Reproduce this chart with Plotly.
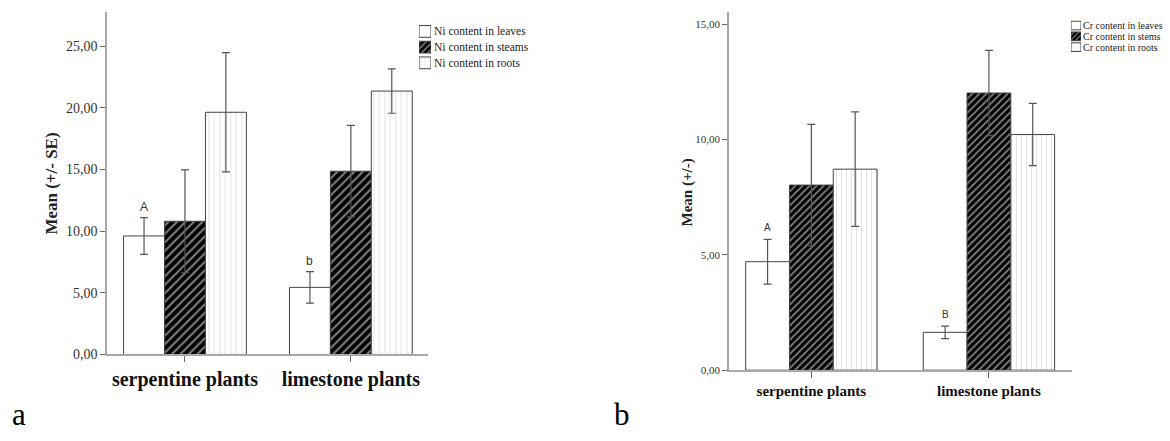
import plotly.graph_objects as go

# ---------------- data ----------------
categories = ["serpentine plants", "limestone plants"]

ni_names = ["Ni content in leaves", "Ni content in steams", "Ni content in roots"]
ni_leaves = [9.61, 5.44]
ni_leaves_se = [1.49, 1.27]
ni_stems = [10.80, 14.86]
ni_stems_se = [4.17, 3.71]
ni_roots = [19.64, 21.36]
ni_roots_se = [4.84, 1.80]
ni_letters = ["A", "b"]

cr_names = ["Cr content in leaves", "Cr content in stems", "Cr content in roots"]
cr_leaves = [4.70, 1.64]
cr_leaves_se = [0.97, 0.27]
cr_stems = [8.02, 12.01]
cr_stems_se = [2.63, 1.85]
cr_roots = [8.71, 10.21]
cr_roots_se = [2.48, 1.35]
cr_letters = ["A", "B"]

ni_yticks = [0, 5, 10, 15, 20, 25]
cr_yticks = [0, 5, 10, 15]

# ---------------- style ----------------
W, H = 1170, 441
SERIF = "Liberation Serif"
AXCOL = "#a8a8a8"
ERRCOL = "#555555"
OUTLINE = "#444444"
BARGAP = 0.26


def pat(k, size):
    if k == 0:
        return dict(shape="")
    if k == 1:
        return dict(shape="/", fgcolor="white", bgcolor="black", size=size, solidity=0.35)
    return dict(shape="|", fgcolor="#c4c4c4", bgcolor="white", size=size, solidity=0.2)


fill = ["white", "black", "white"]


def px_x(p):
    return p / W


def px_y(p):
    return 1 - p / H


fig = go.Figure()

panels = [
    dict(names=ni_names, vals=[ni_leaves, ni_stems, ni_roots],
         ses=[ni_leaves_se, ni_stems_se, ni_roots_se], xa="x", ya="y",
         hatch=[0, 6, 5.5], lxa="x3", lya="y3", lhatch=[0, 4.5, 4], lw=0.75,
         ltext_x=434, lfont=11.5),
    dict(names=cr_names, vals=[cr_leaves, cr_stems, cr_roots],
         ses=[cr_leaves_se, cr_stems_se, cr_roots_se], xa="x2", ya="y2",
         hatch=[0, 5, 5], lxa="x4", lya="y4", lhatch=[0, 3.5, 3.5], lw=0.8,
         ltext_x=1083, lfont=10),
]

annotations = []
for p in panels:
    for k in range(3):
        fig.add_trace(go.Bar(
            x=categories, y=p["vals"][k], name=p["names"][k],
            xaxis=p["xa"], yaxis=p["ya"], offsetgroup=str(k), showlegend=False,
            marker=dict(color=fill[k], pattern=pat(k, p["hatch"][k]),
                        line=dict(color=OUTLINE, width=1)),
            error_y=dict(type="data", array=p["ses"][k], visible=True,
                         color=ERRCOL, thickness=1.2, width=4),
        ))
    # custom compact legend: one swatch per series on a tiny hidden axis
    for k in range(3):
        fig.add_trace(go.Bar(
            y=[k], x=[1], base=0, orientation="h", width=p["lw"], offset=-p["lw"] / 2,
            xaxis=p["lxa"], yaxis=p["lya"], showlegend=False, hoverinfo="skip",
            marker=dict(color=fill[k], pattern=pat(k, p["lhatch"][k]),
                        line=dict(color=OUTLINE, width=1)),
        ))
        annotations.append(dict(
            x=px_x(p["ltext_x"]), xref="paper", y=k, yref=p["lya"],
            text=p["names"][k], showarrow=False, xanchor="left", yanchor="middle",
            xshift=-2, font=dict(family=SERIF, size=p["lfont"], color="#222")))

# significance letters above the leaves bars
group_w = 1 - BARGAP
for i in range(len(categories)):
    annotations.append(dict(
        x=i - group_w / 3, y=ni_leaves[i] + ni_leaves_se[i], xref="x", yref="y",
        text=ni_letters[i], showarrow=False, yanchor="bottom", yshift=2,
        font=dict(family="Liberation Sans", size=12, color="#333")))
    annotations.append(dict(
        x=i - group_w / 3, y=cr_leaves[i] + cr_leaves_se[i], xref="x2", yref="y2",
        text=cr_letters[i], showarrow=False, yanchor="bottom", yshift=4,
        font=dict(family="Liberation Sans", size=10, color="#333")))

# axis titles
annotations.append(dict(x=px_x(52), y=px_y(187), xref="paper", yref="paper",
                        xanchor="center", yanchor="middle",
                        text="<b>Mean (+/- SE)</b>", textangle=-90, showarrow=False,
                        font=dict(family=SERIF, size=17, color="#222")))
annotations.append(dict(x=px_x(687), y=px_y(196), xref="paper", yref="paper",
                        xanchor="center", yanchor="middle",
                        text="<b>Mean (+/-)</b>", textangle=-90, showarrow=False,
                        font=dict(family=SERIF, size=15, color="#222")))
# panel letters
annotations.append(dict(x=px_x(11), y=0, xref="paper", yref="paper",
                        text="a", showarrow=False, xanchor="left", yanchor="bottom",
                        borderpad=0,
                        font=dict(family=SERIF, size=31, color="black")))
annotations.append(dict(x=px_x(613), y=0, xref="paper", yref="paper",
                        text="b", showarrow=False, xanchor="left", yanchor="bottom",
                        borderpad=0,
                        font=dict(family=SERIF, size=31, color="black")))

common_x = dict(type="category", showline=True, linecolor=AXCOL, linewidth=1.5,
                ticks="outside", tickcolor="#666", ticklen=6, showgrid=False,
                zeroline=False)
common_y = dict(showline=True, linecolor=AXCOL, linewidth=1.5, ticks="outside",
                tickcolor="#666", ticklen=5, showgrid=False, zeroline=False,
                tickformat=".2f")
hidden = dict(visible=False, showgrid=False, zeroline=False, fixedrange=True)

fig.update_layout(
    width=W, height=H, margin=dict(l=0, r=0, t=0, b=0),
    paper_bgcolor="white", plot_bgcolor="white",
    separators=",.",
    barmode="group", bargap=BARGAP, bargroupgap=0,
    showlegend=False,
    xaxis=dict(common_x, domain=[px_x(107), px_x(428)], range=[-0.47, 1.465], anchor="y",
               tickfont=dict(family=SERIF, size=20, color="#111", weight="bold")),
    yaxis=dict(common_y, domain=[px_y(361), px_y(12)], range=[0, 27.79], anchor="x",
               tickvals=ni_yticks, tickfont=dict(family=SERIF, size=14, color="#333")),
    xaxis2=dict(common_x, domain=[px_x(729), px_x(1072)], range=[-0.464, 1.468], anchor="y2",
                tickfont=dict(family=SERIF, size=15, color="#111", weight="bold")),
    yaxis2=dict(common_y, domain=[px_y(377), px_y(12)], range=[0, 15.53], anchor="x2",
                tickvals=cr_yticks, tickfont=dict(family=SERIF, size=11, color="#333")),
    xaxis3=dict(hidden, domain=[px_x(419), px_x(431)], range=[0, 1], anchor="y3"),
    yaxis3=dict(hidden, domain=[px_y(72), px_y(24)], range=[2.5, -0.5], anchor="x3"),
    xaxis4=dict(hidden, domain=[px_x(1071), px_x(1081)], range=[0, 1], anchor="y4"),
    yaxis4=dict(hidden, domain=[px_y(53.5), px_y(20.5)], range=[2.5, -0.5], anchor="x4"),
    annotations=annotations,
)

fig.write_html(
    "out.html",
    config={"displayModeBar": False},
    post_script="document.body.style.margin='0';document.body.style.overflow='hidden';",
)
